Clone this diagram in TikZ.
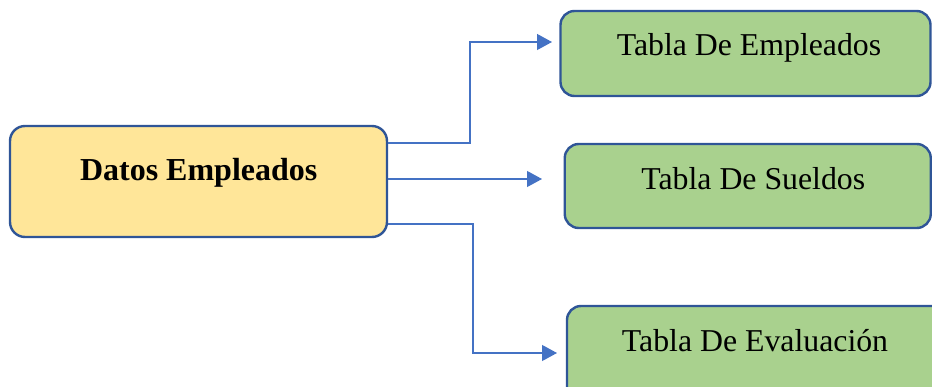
\documentclass[tikz,border=0pt]{standalone}
\usepackage{fontspec}
\setmainfont{Liberation Serif}
\usetikzlibrary{arrows.meta}
\definecolor{boxborder}{HTML}{2F5597}
\definecolor{yelfill}{HTML}{FFE699}
\definecolor{grnfill}{HTML}{A9D18E}
\definecolor{connblue}{HTML}{4472C4}
\tikzset{
  srcbox/.style={draw=boxborder, line width=2.4pt, fill=yelfill, rounded corners=15pt, inner sep=0pt},
  dstbox/.style={draw=boxborder, line width=2.4pt, fill=grnfill, rounded corners=14pt, inner sep=0pt},
  conn/.style={draw=connblue, line width=1.2pt, -{Triangle[length=15pt,width=16pt]}},
  srclabel/.style={anchor=base, inner sep=0pt, font=\fontsize{32}{38}\selectfont\bfseries},
  dstlabel/.style={anchor=base, inner sep=0pt, font=\fontsize{31.8}{38}\selectfont}
}
\begin{document}
\begin{tikzpicture}[x=1pt, y=-1pt]
\useasboundingbox (0,0) rectangle (932,387);
\clip (0,0) rectangle (932,387);
% boxes
\node[srcbox, minimum width=377pt, minimum height=111pt] (L) at (198.5,181.5) {};
\node[dstbox, minimum width=370pt, minimum height=85pt] (B1) at (745.5,53.5) {};
\node[dstbox, minimum width=366pt, minimum height=84pt] (B2) at (747.75,186) {};
\node[dstbox, minimum width=392pt, minimum height=114pt] (B3) at (763,363) {};
% labels
\node[srclabel] (tL) at (198.7,181) {Datos Empleados};
\node[dstlabel] (t1) at (749,56) {Tabla De Empleados};
\node[dstlabel] (t2) at (753.3,189.3) {Tabla De Sueldos};
\node[dstlabel] (t3) at (755,351.7) {Tabla De Evaluación};
% connector helper coordinates
\coordinate (k1) at (470,42);
\coordinate (e1) at (552,42);
\coordinate (e2) at (542,179);
\coordinate (k3) at (473,353);
\coordinate (e3) at (557,353);
% connectors
\draw[conn] ([yshift=38.5pt]L.east) -| (k1) -- (e1);
\draw[conn] ([yshift=2.5pt]L.east) -- (e2);
\draw[conn] ([yshift=-42.5pt]L.east) -| (k3) -- (e3);
\end{tikzpicture}
\end{document}
